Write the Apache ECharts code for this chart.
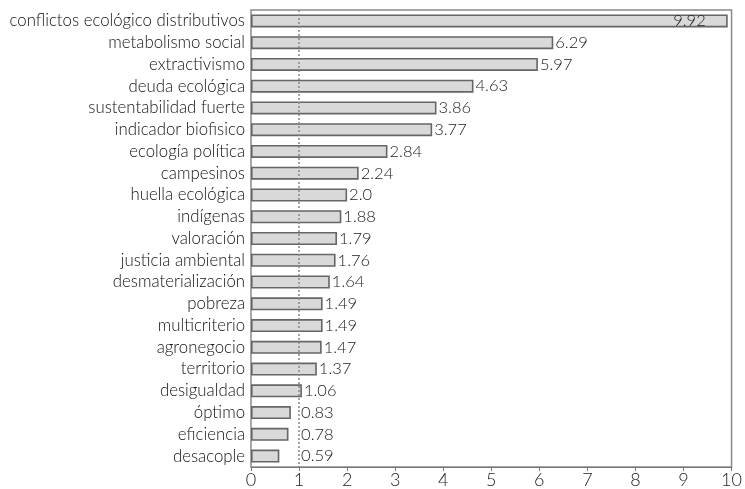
<!DOCTYPE html>
<html><head><meta charset="utf-8">
<script src="https://cdn.jsdelivr.net/npm/echarts@6/dist/echarts.min.js"></script>
<style>html,body{margin:0;padding:0;background:#fff}#c{width:745px;height:489px}</style>
</head><body><div id="c"></div>
<script>
const categories = ["conflictos ecológico distributivos","metabolismo social","extractivismo","deuda ecológica","sustentabilidad fuerte","indicador biofisico","ecología política","campesinos","huella ecológica","indígenas","valoración","justicia ambiental","desmaterialización","pobreza","multicriterio","agronegocio","territorio","desigualdad","óptimo","eficiencia","desacople"];
const values = [9.92,6.29,5.97,4.63,3.86,3.77,2.84,2.24,2.0,1.88,1.79,1.76,1.64,1.49,1.49,1.47,1.37,1.06,0.83,0.78,0.59];
const valueLabels = ["9.92","6.29","5.97","4.63","3.86","3.77","2.84","2.24","2.0","1.88","1.79","1.76","1.64","1.49","1.49","1.47","1.37","1.06","0.83","0.78","0.59"];
const xTicks = [0,1,2,3,4,5,6,7,8,9,10];
const refLine = 1;

const font = 'Lato';
const chart = echarts.init(document.getElementById('c'));
const labelAnchor = values.map(v => Math.max(v, refLine));
chart.setOption({
  animation: false,
  grid: {left: 251, right: 11, top: 10, bottom: 22, show: true, borderColor: '#8a8a8a', borderWidth: 1.5, backgroundColor: '#fff'},
  xAxis: {
    type: 'value', min: xTicks[0], max: xTicks[xTicks.length-1], interval: 1,
    axisLine: {show: true, lineStyle: {color: '#777', width: 1.2}},
    axisTick: {show: true, length: 4, lineStyle: {color: '#777'}},
    splitLine: {show: false},
    axisLabel: {color: '#222', fontFamily: font, fontWeight: 300, fontSize: 18, margin: 4}
  },
  yAxis: {
    type: 'category', data: categories, inverse: true,
    axisLine: {show: false}, axisTick: {show: false},
    axisLabel: {interval: 0, color: '#111', fontFamily: font, fontWeight: 300, fontSize: 16.8, margin: 6, hideOverlap: false}
  },
  series: [
    {
      type: 'bar', data: values, barWidth: 13,
      itemStyle: {color: '#d9d9d9', borderColor: '#666', borderWidth: 1.6},
      markLine: {
        silent: true, symbol: 'none', label: {show: false},
        lineStyle: {type: [2, 2], color: '#888', width: 1.5},
        data: [{xAxis: refLine}]
      },
      z: 2
    },
    {
      type: 'bar', data: labelAnchor.map((v, i) => ({
        value: v,
        label: i === 0 ? {position: 'insideRight', offset: [-20, 0]} : {}
      })),
      barWidth: 13, barGap: '-100%',
      itemStyle: {color: 'rgba(0,0,0,0)', borderWidth: 0},
      label: {
        show: true, position: 'right', distance: 2,
        color: '#222', fontFamily: font, fontWeight: 300, fontSize: 16.5,
        formatter: p => valueLabels[p.dataIndex]
      },
      z: 3
    }
  ]
});
</script></body></html>
